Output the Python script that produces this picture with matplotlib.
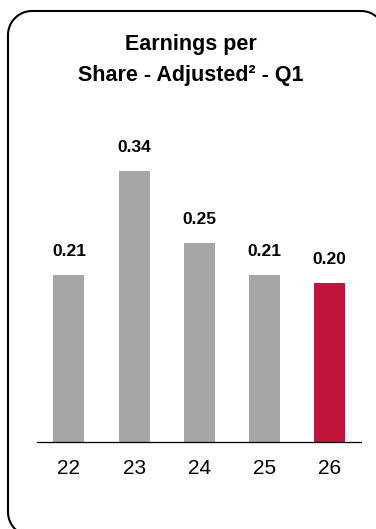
import numpy as np
import matplotlib.pyplot as plt
from matplotlib.path import Path
from matplotlib.patches import PathPatch

plt.rcParams['font.family'] = ['Liberation Sans', 'DejaVu Sans']

years = ['22', '23', '24', '25', '26']
eps_adjusted = [0.21, 0.34, 0.25, 0.21, 0.20]
bar_colors = ['#a6a6a6', '#a6a6a6', '#a6a6a6', '#a6a6a6', '#c0143c']

W, H = 376, 529
fig = plt.figure(figsize=(W / 100, H / 100), dpi=100)


def rounded_rect(x0, y0, x1, y1, r, n=20):
    # corner arcs going round counter-clockwise, pixel units
    pts = []
    corners = [(x1 - r, y0 + r, -90), (x1 - r, y1 - r, 0),
               (x0 + r, y1 - r, 90), (x0 + r, y0 + r, 180)]
    for cx, cy, a0 in corners:
        t = np.radians(np.linspace(a0, a0 + 90, n))
        pts += list(zip(cx + r * np.cos(t), cy + r * np.sin(t)))
    pts.append(pts[0])
    return Path(pts)


# frame around the panel, y measured from the bottom
frame = fig.add_axes([0, 0, 1, 1])
frame.set_xlim(0, W)
frame.set_ylim(0, H)
frame.axis('off')
frame.add_patch(PathPatch(rounded_rect(8, -7, 385, H - 11, 24),
                          facecolor='none', edgecolor='black', linewidth=1.5))

# title
fig.text(191 / W, 1 - 50 / H, 'Earnings per', ha='center', va='baseline',
         fontsize=15.5, fontweight='bold')
fig.text(191 / W, 1 - 81 / H, 'Share - Adjusted² - Q1', ha='center', va='baseline',
         fontsize=15.5, fontweight='bold')

ax = fig.add_axes([37 / W, 87 / H, 324 / W, 342 / H])
x = range(len(years))
bars = ax.bar(x, eps_adjusted, width=0.475, color=bar_colors)
for b, v in zip(bars, eps_adjusted):
    ax.annotate(f'{v:.2f}', (b.get_x() + b.get_width() / 2, v),
                xytext=(0, 16.5), textcoords='offset points',
                ha='center', va='center', fontsize=12.5, fontweight='bold')

ax.set_xlim(-0.49, 4.48)
ax.set_ylim(0, 342 / 797.5)
ax.set_xticks(list(x))
ax.set_xticklabels(years, fontsize=15)
ax.tick_params(axis='x', length=0, pad=12)
ax.set_yticks([])
for s in ['top', 'right', 'left']:
    ax.spines[s].set_visible(False)
ax.spines['bottom'].set_linewidth(0.9)
ax.patch.set_alpha(0)

fig.savefig('out.png', dpi=100)
